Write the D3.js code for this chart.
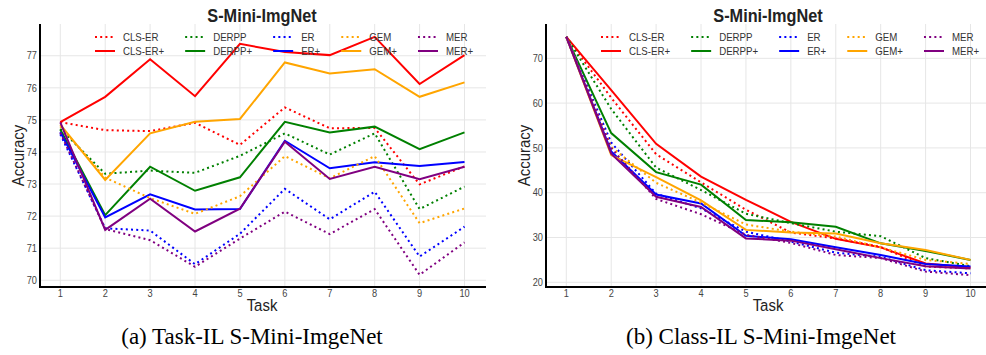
<!DOCTYPE html>
<html>
<head>
<meta charset="utf-8">
<script src="https://cdn.jsdelivr.net/npm/d3@7"></script>
<style>
  body { margin: 0; background: #fff; }
  text { font-family: "Liberation Sans", Arial, sans-serif; }
</style>
</head>
<body>
<svg id="chart" width="986" height="355"></svg>
<script>
// Data
const tasks = [1, 2, 3, 4, 5, 6, 7, 8, 9, 10];
const methods = ["CLS-ER", "CLS-ER+", "DERPP", "DERPP+", "ER", "ER+", "GEM", "GEM+", "MER", "MER+"];
const methodColors = ["red", "red", "green", "green", "blue", "blue", "orange", "orange", "purple", "purple"];
const methodDotted = [true, false, true, false, true, false, true, false, true, false];

// Task-IL accuracy, one row per method (same order as methods)
const taskIlAcc = [
    [74.93, 74.68, 74.65, 74.91, 74.22, 75.39, 74.74, 74.75, 72.99, 73.55],
    [74.93, 75.72, 76.89, 75.74, 77.37, 77.12, 77.02, 77.59, 76.12, 77.02],
    [74.72, 73.32, 73.42, 73.35, 73.88, 74.58, 73.92, 74.58, 72.22, 72.92],
    [74.70, 72.03, 73.54, 72.79, 73.21, 74.94, 74.61, 74.79, 74.09, 74.61],
    [74.55, 71.62, 71.55, 70.50, 71.45, 72.85, 71.90, 72.76, 70.74, 71.67],
    [74.62, 71.96, 72.68, 72.21, 72.22, 74.35, 73.49, 73.68, 73.56, 73.69],
    [74.80, 73.20, 72.56, 72.07, 72.62, 73.87, 73.18, 73.87, 71.78, 72.24],
    [74.85, 73.13, 74.58, 74.94, 75.03, 76.79, 76.45, 76.58, 75.72, 76.17],
    [74.60, 71.60, 71.25, 70.42, 71.30, 72.14, 71.44, 72.22, 70.17, 71.18],
    [74.92, 71.57, 72.54, 71.52, 72.23, 74.32, 73.16, 73.54, 73.15, 73.54]
];

// Class-IL accuracy, one row per method
const classIlAcc = [
    [74.8, 61.2, 48.6, 42.3, 36.2, 31.1, 29.8, 27.9, 23.5, 23.1],
    [74.8, 62.9, 50.9, 43.6, 38.4, 33.5, 29.7, 27.8, 24.2, 23.3],
    [74.8, 58.7, 45.6, 40.6, 35.3, 33.2, 31.3, 30.3, 25.4, 23.6],
    [74.8, 53.3, 44.6, 41.8, 33.9, 33.4, 32.4, 28.7, 27.0, 25.0],
    [74.8, 51.2, 39.8, 36.5, 31.3, 29.1, 26.6, 25.7, 22.7, 22.0],
    [74.8, 49.2, 39.6, 37.6, 30.4, 29.6, 27.8, 26.1, 24.1, 23.5],
    [74.8, 50.2, 42.2, 37.8, 32.9, 31.3, 30.2, 27.8, 25.0, 24.1],
    [74.8, 48.4, 43.5, 38.3, 31.7, 31.1, 30.9, 28.7, 27.2, 25.0],
    [74.8, 50.0, 38.6, 35.2, 30.6, 28.8, 26.1, 25.4, 22.4, 21.6],
    [74.8, 48.7, 39.1, 36.8, 29.8, 29.3, 27.4, 25.4, 23.6, 23.1]
];

const taskIlTicks = [70, 71, 72, 73, 74, 75, 76, 77];
const classIlTicks = [20, 30, 40, 50, 60, 70];

const chartTitle = "S-Mini-ImgNet";
const captions = ["(a)  Task-IL S-Mini-ImgeNet", "(b)  Class-IL S-Mini-ImgeNet"];

// the source figure was squeezed sideways, text included
const squeeze = 0.88;

const svg = d3.select("#chart");

function addText(parent, x, y, str, size, opts) {
    opts = opts || {};
    let g = parent.append("g")
        .attr("transform", `translate(${x},${y})` + (opts.rotate ? ` rotate(${opts.rotate})` : "") + ` scale(${squeeze},1)`);
    return g.append("text")
        .attr("font-size", size)
        .attr("font-weight", opts.bold ? "bold" : null)
        .attr("fill", opts.fill || "#222")
        .attr("text-anchor", opts.anchor || "start")
        .text(str);
}

function drawPanel(left, values, yDomain, yTicks, caption, captionX) {
    const top = 24, bottom = 287, width = 446;

    const x = d3.scaleLinear().domain([1, 10]).range([left + 20.3, left + 424.5]);
    const y = d3.scaleLinear().domain(yDomain).range([bottom, top]);

    let g = svg.append("g");

    // grid
    g.selectAll(".vgrid")
        .data(tasks)
        .join("line")
            .attr("x1", d => x(d)).attr("x2", d => x(d))
            .attr("y1", top).attr("y2", bottom)
            .attr("stroke", "#e6e6e6").attr("stroke-width", 1);

    g.selectAll(".hgrid")
        .data(yTicks)
        .join("line")
            .attr("x1", left).attr("x2", left + width)
            .attr("y1", d => y(d)).attr("y2", d => y(d))
            .attr("stroke", "#e6e6e6").attr("stroke-width", 1);

    // tick labels
    yTicks.forEach(t => addText(g, left - 3, y(t) + 3.7, t, 10.5, { anchor: "end", fill: "#444" }));
    tasks.forEach(t => addText(g, x(t), 297, t, 10.5, { anchor: "middle", fill: "#444" }));

    // series
    const line = d3.line()
        .x((d, i) => x(tasks[i]))
        .y(d => y(d));

    values.forEach((row, i) => {
        g.append("path")
            .datum(row)
            .attr("d", line)
            .attr("fill", "none")
            .attr("stroke", methodColors[i])
            .attr("stroke-width", 2)
            .attr("stroke-dasharray", methodDotted[i] ? "2,3.2" : null);
    });

    // spines
    g.append("line")
        .attr("x1", left).attr("x2", left).attr("y1", top).attr("y2", bottom + 1)
        .attr("stroke", "#000").attr("stroke-width", 2);
    g.append("line")
        .attr("x1", left - 1).attr("x2", left + width).attr("y1", bottom).attr("y2", bottom)
        .attr("stroke", "#000").attr("stroke-width", 2);

    // titles
    addText(g, left + width / 2 - 1, 21.5, chartTitle, 18.5, { anchor: "middle", bold: true, fill: "#222" });
    addText(g, left + width / 2 - 1, 311, "Task", 17, { anchor: "middle", fill: "#222" });
    addText(g, left - 16, (top + bottom) / 2, "Accuracy", 17, { anchor: "middle", rotate: -90, fill: "#222" });

    // legend: 5 columns, plain line then + line in each column
    let colX = left + 55;
    for (let c = 0; c < 5; c++) {
        let widest = 0;
        for (let r = 0; r < 2; r++) {
            let k = c * 2 + r;
            let rowY = 37 + r * 14;
            g.append("line")
                .attr("x1", colX).attr("x2", colX + 20)
                .attr("y1", rowY).attr("y2", rowY)
                .attr("stroke", methodColors[k])
                .attr("stroke-width", 2)
                .attr("stroke-dasharray", methodDotted[k] ? "2,3.2" : null);
            let t = addText(g, colX + 28, rowY + 4, methods[k], 11, { fill: "#333" });
            widest = Math.max(widest, t.node().getComputedTextLength() * squeeze);
        }
        colX = colX + 28 + widest + 21;
    }

    // caption under the panel
    svg.append("text")
        .attr("x", captionX)
        .attr("y", 344)
        .attr("text-anchor", "middle")
        .attr("font-size", 23)
        .attr("fill", "#000")
        .style("font-family", "'Liberation Serif', 'Times New Roman', serif")
        .text(caption);
}

drawPanel(40, taskIlAcc, [69.79, 77.99], taskIlTicks, captions[0], 252);
drawPanel(546, classIlAcc, [18.95, 77.66], classIlTicks, captions[1], 761);
</script>
</body>
</html>
